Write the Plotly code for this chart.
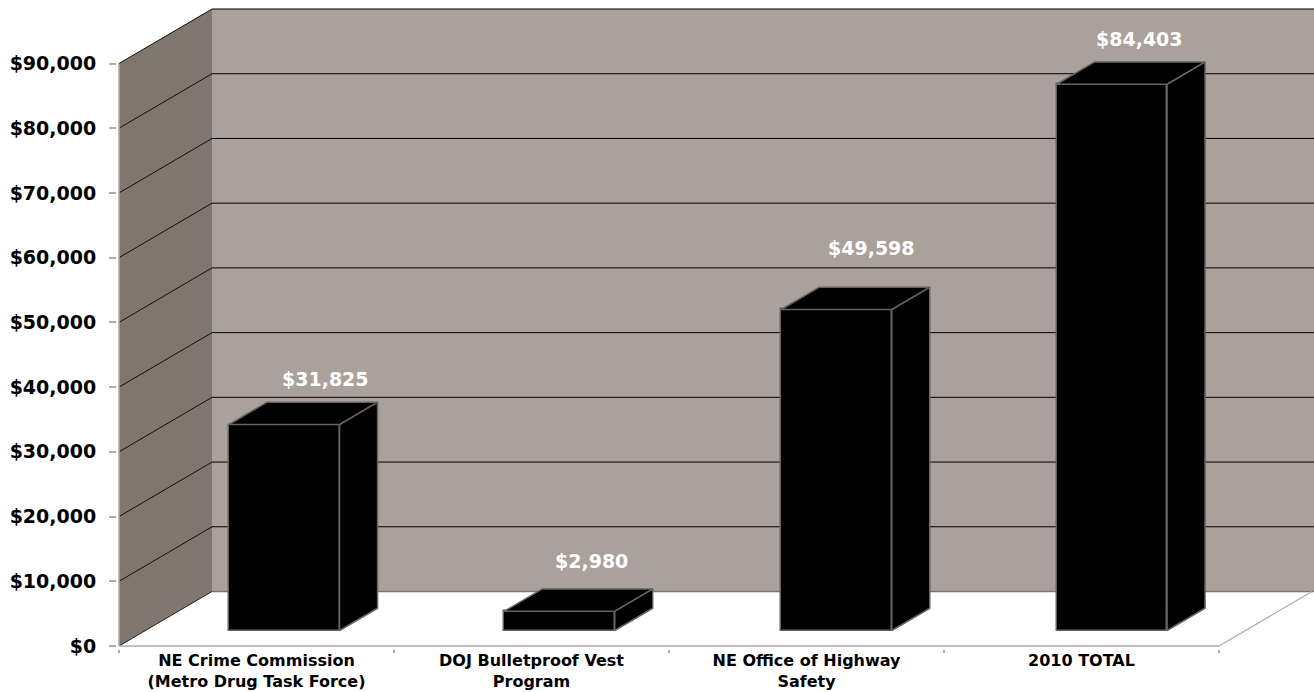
import plotly.graph_objects as go

categories = ["NE Crime Commission<br>(Metro Drug Task Force)", "DOJ Bulletproof Vest<br>Program",
              "NE Office of Highway<br>Safety", "2010 TOTAL"]
values = [31825, 2980, 49598, 84403]
y_ticks = [0, 10000, 20000, 30000, 40000, 50000, 60000, 70000, 80000, 90000]
y_tick_labels = ["$0", "$10,000", "$20,000", "$30,000", "$40,000", "$50,000", "$60,000", "$70,000", "$80,000", "$90,000"]

# pixel geometry of the oblique projection
W, H = 1314, 692
AX_L, AX_R, AX_B, AX_T = 119.0, 1219.0, 646.0, 63.5
PX_X = (AX_R - AX_L) / 4
PX_Y = (AX_B - AX_T) / 90000
def ux(px): return px / PX_X
def uy(px): return px / PX_Y

wall_dx, wall_dy = ux(93), uy(54.5)
bar_dx, bar_dy = ux(38), uy(22.3)
bar_shift_px = [27.8, 28.0, 30.0, 30.3]
bar_base = uy(15.5)
bar_width = ux(110.5)
x0, x_end = -0.5, 3.5
label_dx = [41, 32, 35, 28]
label_dy = [46, 50, 61, 45]

BACK = "#aaa09c"; SIDE = "#80756f"; EDGE = "#6b625e"; AXIS = "#b3a9a5"; FONT = "DejaVu Sans"

x_max = x0 + (W - AX_L) / PX_X
shapes = []
def poly(pts, fill):
    path = "M" + " L".join(f"{a},{b}" for a, b in pts) + " Z"
    shapes.append(dict(type="path", path=path, fillcolor=fill, line=dict(width=0), layer="below"))
def seg(a, b, c, d, color, w=1.0):
    shapes.append(dict(type="line", x0=a, y0=b, x1=c, y1=d, line=dict(color=color, width=w), layer="below"))

top = y_ticks[-1]
poly([(x0 + wall_dx, wall_dy), (x_max, wall_dy), (x_max, top + wall_dy), (x0 + wall_dx, top + wall_dy)], BACK)
poly([(x0, 0), (x0 + wall_dx, wall_dy), (x0 + wall_dx, top + wall_dy), (x0, top)], SIDE)
for t in y_ticks[1:]:
    seg(x0, t, x0 + wall_dx, t + wall_dy, "#111111", 1)
    seg(x0 + wall_dx, t + wall_dy, x_max, t + wall_dy, "#000000", 1)
seg(x0, 0, x0 + wall_dx, wall_dy, "#222222", 1)
seg(x0 + wall_dx, wall_dy, x_max, wall_dy, "#7f7570", 1.5)
seg(x0, 0, x_end, 0, AXIS, 1.5)
seg(x_end, 0, x_end + wall_dx, wall_dy, AXIS, 1.2)
seg(x0, 0, x0, top, AXIS, 1.5)

fig = go.Figure()
idx = list(range(len(values)))
bar_x = [i + ux(s) for i, s in zip(idx, bar_shift_px)]
fig.add_trace(go.Bar(x=bar_x, y=values, base=bar_base, width=bar_width,
                     marker=dict(color="#000000", line=dict(color=EDGE, width=1.5)),
                     hoverinfo="skip", showlegend=False))
for i, v in zip(idx, values):
    l = bar_x[i] - bar_width / 2
    r = l + bar_width
    b = bar_base
    t = bar_base + v
    fig.add_trace(go.Scatter(x=[r, r + bar_dx, r + bar_dx, r, r], y=[b, b + bar_dy, t + bar_dy, t, b],
                             mode="lines", fill="toself", fillcolor="#000000", line=dict(color=EDGE, width=1.5),
                             hoverinfo="skip", showlegend=False))
    fig.add_trace(go.Scatter(x=[l, r, r + bar_dx, l + bar_dx, l], y=[t, t, t + bar_dy, t + bar_dy, t],
                             mode="lines", fill="toself", fillcolor="#000000", line=dict(color=EDGE, width=1.5),
                             hoverinfo="skip", showlegend=False))
    fig.add_annotation(x=bar_x[i], y=t, text=f"${v:,}", showarrow=False, xanchor="center", yanchor="middle",
                       xshift=label_dx[i], yshift=label_dy[i],
                       font=dict(family=FONT, size=19, color="#ffffff", weight="bold"))

fig.update_layout(
    width=W, height=H, margin=dict(l=AX_L - 2, r=0, t=5, b=H - AX_B - 3), paper_bgcolor="#ffffff", plot_bgcolor="#ffffff",
    shapes=shapes, showlegend=False, bargap=0,
    xaxis=dict(range=[x0 - ux(2), x_max], tickmode="array", tickvals=idx, ticktext=categories, ticks="", showgrid=False,
               zeroline=False, showline=False, ticklabelstandoff=0, automargin=False,
               tickfont=dict(family=FONT, size=16, color="#000000", weight="bold"),
               minor=dict(tickmode="array", tickvals=[-0.5, 0.5, 1.5, 2.5, 3.5], ticks="outside", ticklen=3,
                          tickcolor=AXIS, tickwidth=1.5, showgrid=False)),
    yaxis=dict(range=[-uy(3), AX_B / PX_Y - uy(5)], tickmode="array", tickvals=y_ticks, ticktext=y_tick_labels, ticks="outside",
               ticklen=7, tickcolor=AXIS, tickwidth=1.5, showgrid=False, zeroline=False, showline=False, automargin=False,
               ticklabelstandoff=9, tickfont=dict(family=FONT, size=19, color="#000000", weight="bold")),
)
fig.write_html("out.html", config={"displayModeBar": False}, post_script="document.body.style.margin='0';")
